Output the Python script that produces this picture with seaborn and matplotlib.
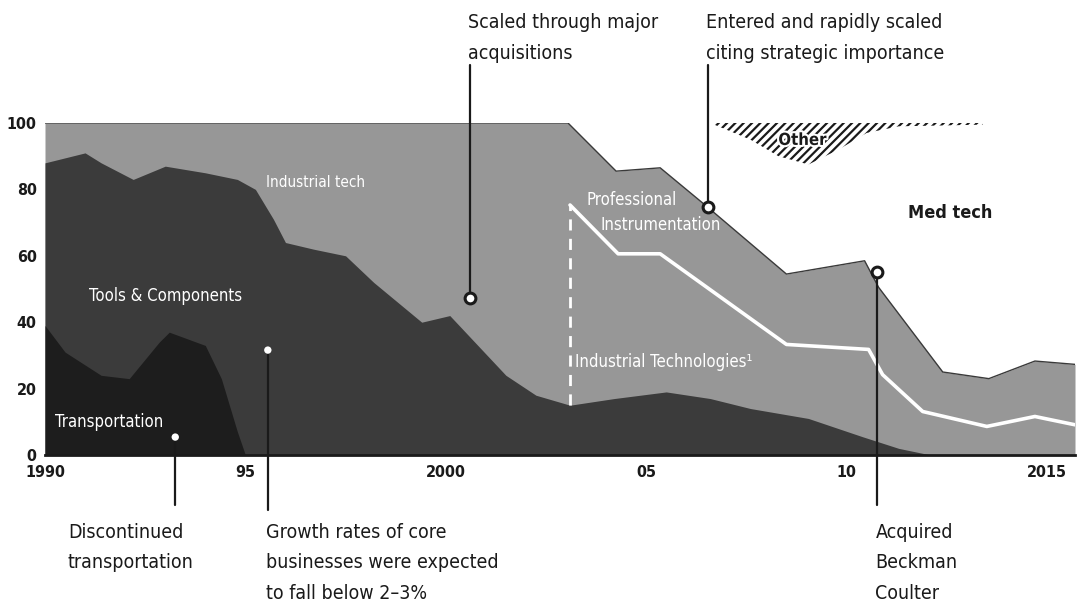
import matplotlib
matplotlib.use("Agg")
import matplotlib.pyplot as plt
import matplotlib.patheffects as pe
from matplotlib import font_manager as fm
import seaborn as sns

# ---- data: portfolio share of revenue (%), cumulative boundaries of the stacked areas ----
years_ticks = [1990, 1995, 2000, 2005, 2010, 2015]
tick_labels = ["1990", "95", "2000", "05", "10", "2015"]
y_ticks = [0, 20, 40, 60, 80, 100]

# Transportation (bottom layer)
transport_x = [1990.0, 1990.5, 1991.4, 1992.1, 1992.85, 1993.1, 1994.0, 1994.4, 1994.8, 1995.0]
transport_top = [39, 31, 24, 23, 34, 37, 33, 23, 7, 0]

# Tools & Components (top of layer, incl. transportation below)
tools_x = [1990.0, 1991.0, 1991.4, 1992.2, 1993.0, 1994.0, 1994.8, 1995.25, 1995.7, 1996.0,
           1996.7, 1997.5, 1998.2, 1999.1, 1999.4, 2000.1, 2000.8, 2001.5, 2002.25, 2003.1,
           2004.2, 2005.5, 2006.6, 2007.6, 2009.05, 2010.4, 2011.3, 2012.1]
tools_top = [88, 91, 88, 83, 87, 85, 83, 80, 71, 64,
             62, 60, 52, 43, 40, 42, 33, 24, 18, 15,
             17, 19, 17, 14, 11, 5.5, 2, 0]

# Industrial tech / Professional Instrumentation (top of the gray block)
core_x = [1990.0, 2003.05, 2004.25, 2005.35, 2006.5, 2008.5, 2010.45, 2010.8, 2012.4, 2013.55, 2014.7, 2015.7]
core_top = [100, 100, 85.5, 86.5, 75, 54.5, 58.5, 50.5, 25, 23, 28.3, 27.3]

# Industrial Technologies (split line inside the gray block)
indtech_x = [2003.1, 2004.3, 2005.35, 2008.5, 2010.55, 2010.9, 2011.9, 2013.5, 2014.7, 2015.7]
indtech_top = [75.3, 60.6, 60.6, 33.3, 31.8, 24.2, 13.1, 8.6, 11.6, 9.1]

# Other (hatched wedge hanging from 100)
other_x = [2006.7, 2007.6, 2008.3, 2009.05, 2009.8, 2010.5, 2011.3, 2013.4]
other_bottom = [99.5, 95, 90, 87.5, 92, 97, 99, 99.5]

# ---- style ----
sns.set_theme(style="white")
names = {f.name for f in fm.fontManager.ttflist}
condensed = any(f.name == "DejaVu Sans" and str(f.stretch) in ("condensed", "semi-condensed")
                for f in fm.fontManager.ttflist)
if "Liberation Sans Narrow" in names:
    FAMILY, STRETCH = "Liberation Sans Narrow", "normal"
elif condensed:
    FAMILY, STRETCH = "DejaVu Sans", "condensed"
else:
    FAMILY, STRETCH = "Roboto", "normal"
plt.rcParams["font.family"] = [FAMILY, "DejaVu Sans"]
plt.rcParams["font.stretch"] = STRETCH
plt.rcParams["hatch.linewidth"] = 1.6

C_CORE = "#979797"
C_TOOLS = "#3b3b3b"
C_TRANS = "#1d1d1d"
INK = "#1a1a1a"

fig = plt.figure(figsize=(10.79, 6.03), dpi=100)
ax = fig.add_axes([45 / 1079, 1 - 455 / 603, 1030 / 1079, 332 / 603])
ax.set_xlim(1990, 2015.7)
ax.set_ylim(0, 100)

# stacked areas
ax.fill_between(core_x, 0, core_top, color=C_CORE, lw=0, zorder=1)
ax.fill_between(tools_x, 0, tools_top, color=C_TOOLS, lw=0, zorder=2)
ax.fill_between(transport_x, 0, transport_top, color=C_TRANS, lw=0, zorder=3)
ax.fill_between(other_x, other_bottom, 100, facecolor="white", edgecolor=INK,
                hatch="////", lw=0, zorder=2)

# outline of the gray block and the split line
sns.lineplot(x=core_x, y=core_top, ax=ax, color="#3a3a3a", lw=1.0, zorder=4)
sns.lineplot(x=indtech_x, y=indtech_top, ax=ax, color="white", lw=2.6, zorder=4)
ax.plot([indtech_x[0], indtech_x[0]], [15, indtech_top[0]], color="white", lw=2,
        ls=(0, (4, 3)), zorder=4)

# axes
ax.set_xticks(years_ticks)
ax.set_xticklabels(tick_labels)
ax.set_yticks(y_ticks)
ax.tick_params(axis="both", length=0, labelsize=11.5, colors=INK)
ax.tick_params(axis="x", pad=7)
ax.tick_params(axis="y", pad=6)
for lab in ax.get_xticklabels() + ax.get_yticklabels():
    lab.set_fontweight("bold")
for s in ("top", "right", "left"):
    ax.spines[s].set_visible(False)
ax.spines["bottom"].set_color(INK)
ax.spines["bottom"].set_linewidth(2)
ax.spines["bottom"].set_zorder(6)
ax.grid(False)

# area labels
lab_kw = dict(color="white", fontsize=12, zorder=7)
ax.text(1996.76, 82.2, "Industrial tech", ha="center", va="center",
        **{**lab_kw, "fontsize": 11})
ax.text(1991.1, 47.9, "Tools & Components", ha="left", va="center", **lab_kw)
ax.text(1990.25, 10, "Transportation", ha="left", va="center", **lab_kw)
ax.text(2003.5, 76.8, "Professional", ha="left", va="center", **lab_kw)
ax.text(2003.85, 69.3, "Instrumentation", ha="left", va="center", **lab_kw)
ax.text(2003.22, 28, "Industrial Technologies\u00b9", ha="left", va="center", **lab_kw)
ax.text(2012.58, 72.9, "Med tech", ha="center", va="center", color=INK, fontsize=13,
        fontweight="bold", zorder=7)
ax.text(2008.9, 94.9, "Other", ha="center", va="center", color=INK, fontsize=12,
        fontweight="bold", zorder=7,
        path_effects=[pe.withStroke(linewidth=3, foreground="white")])

# event call-outs
ann_kw = dict(color=INK, fontsize=14, linespacing=1.76, ha="left", va="top",
              clip_on=False, zorder=8)
events = [
    # (marker x, marker y, leader end, text x, text y, text, hollow marker)
    (1993.25, 5.4, -15, 1990.57, -20.4, "Discontinued\ntransportation", False),
    (1995.56, 31.6, -16.5, 1995.52, -20.4,
     "Growth rates of core\nbusinesses were expected\nto fall below 2\u20133%", False),
    (2000.6, 47.3, 117.5, 2000.55, 133.0, "Scaled through major\nacquisitions", True),
    (2006.54, 74.7, 117.5, 2006.5, 133.0, "Entered and rapidly scaled\nciting strategic importance", True),
    (2010.76, 55.1, -15, 2010.72, -20.4, "Acquired\nBeckman\nCoulter", True),
]
for ex, ey, lead_end, tx, ty, txt, hollow in events:
    ax.plot([ex, ex], [ey, lead_end], color=INK, lw=1.6, clip_on=False, zorder=5)
    if hollow:
        ax.scatter([ex], [ey], s=60, facecolor="white", edgecolor=INK, linewidth=2.2,
                   zorder=9, clip_on=False)
    else:
        ax.scatter([ex], [ey], s=28, facecolor="white", edgecolor="none", zorder=9,
                   clip_on=False)
    ax.text(tx, ty, txt, **ann_kw)

fig.savefig("out.png", dpi=100)
